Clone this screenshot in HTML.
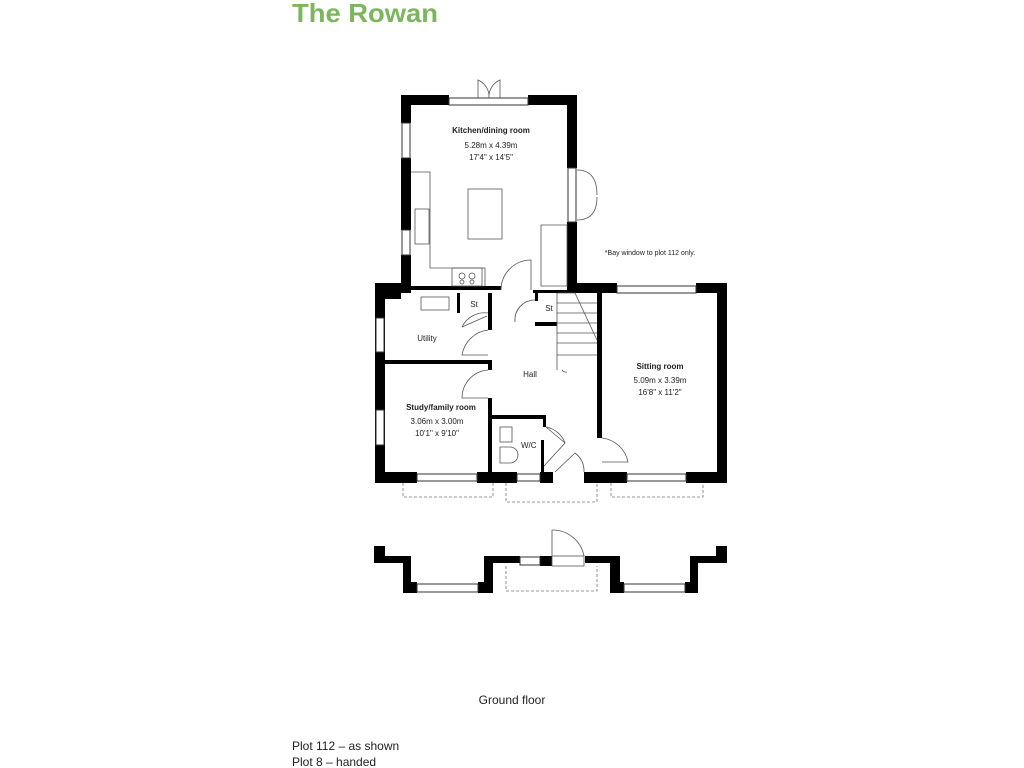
<!DOCTYPE html>
<html><head><meta charset="utf-8"><style>
html,body{margin:0;padding:0;background:#fff;width:1024px;height:768px;overflow:hidden}
svg{display:block}
text{font-family:"Liberation Sans",sans-serif;fill:#222}
</style></head><body>
<svg width="1024" height="768" viewBox="0 0 1024 768">
<text x="292" y="22" style="font-size:26px;font-weight:bold;fill:#7cb65c" textLength="146" lengthAdjust="spacingAndGlyphs">The Rowan</text>
<g fill="#000">
<rect x="401" y="95" width="48" height="10"/>
<rect x="528" y="95" width="49" height="10"/>
<rect x="401" y="95" width="10" height="28"/>
<rect x="401" y="158" width="10" height="72"/>
<rect x="401" y="255" width="10" height="33"/>
<rect x="567" y="95" width="10" height="73"/>
<rect x="567" y="222" width="10" height="68"/>
<rect x="375" y="283" width="36" height="10"/>
<rect x="375" y="283" width="10" height="200"/>
<rect x="385" y="293" width="16" height="6"/>
<rect x="411" y="286" width="90" height="4"/>
<rect x="533" y="290" width="64" height="3"/>
<rect x="567" y="283" width="30" height="10"/>
<rect x="597" y="283" width="20" height="10"/>
<rect x="696" y="283" width="31" height="10"/>
<rect x="717" y="283" width="10" height="200"/>
<rect x="597" y="283" width="5" height="155"/>
<rect x="597" y="472" width="30" height="11"/>
<rect x="686" y="472" width="41" height="11"/>
<rect x="375" y="472" width="42" height="11"/>
<rect x="477" y="472" width="40" height="11"/>
<rect x="540" y="472" width="13" height="11"/>
<rect x="584" y="472" width="20" height="11"/>
<rect x="385" y="360" width="107" height="4"/>
<rect x="488" y="293" width="4" height="37"/>
<rect x="488" y="360" width="4" height="10"/>
<rect x="488" y="398" width="4" height="74"/>
<rect x="457" y="293" width="3" height="20"/>
<rect x="490" y="415" width="56" height="4"/>
<rect x="543" y="415" width="3" height="12"/>
<rect x="535" y="322" width="22" height="4"/>
<rect x="535" y="293" width="3" height="8"/>
<rect x="541" y="440" width="3" height="32"/>
<polygon points="374,546 385,546 385,556 411,556 411,582 417,582 417,593 403,593 403,563 374,563"/>
<polygon points="478,582 484,582 484,556 520,556 520,563 493,563 493,593 478,593"/>
<rect x="540" y="556" width="12" height="10"/>
<polygon points="585,556 620,556 620,593 610,593 610,563 585,563"/>
<polygon points="610,582 624,582 624,593 610,593"/>
<polygon points="727,546 716,546 716,556 690,556 690,582 685,582 685,593 698,593 698,563 727,563"/>
</g>
<g fill="#fff" stroke="#333" stroke-width="1">
<rect x="449" y="98" width="79" height="7"/>
<rect x="402" y="123" width="8" height="35"/>
<rect x="402" y="230" width="8" height="25"/>
<rect x="568" y="168" width="8" height="54"/>
<rect x="617" y="286" width="79" height="7"/>
<rect x="376" y="318" width="8" height="34"/>
<rect x="376" y="410" width="8" height="35"/>
<rect x="417" y="474" width="60" height="7"/>
<rect x="517" y="474" width="23" height="7"/>
<rect x="627" y="474" width="59" height="7"/>
<rect x="417" y="584" width="61" height="8"/>
<rect x="520" y="557" width="20" height="8"/>
<rect x="624" y="584" width="61" height="8"/>
</g>
<g fill="none" stroke="#555" stroke-width="0.8">
<path d="M478 98 V80 A18 18 0 0 1 489 98 M500 98 V80 A18 18 0 0 0 489 98"/>
<path d="M577 170 Q597 170 597 195 M577 220 Q597 220 597 197"/>
<path d="M411 172 H430 V268 H485 V286"/>
<rect x="468" y="189" width="34" height="50"/>
<path d="M541 225 H567 V286 H541 Z"/>
<rect x="415" y="209" width="14" height="35"/>
<rect x="452" y="268" width="30" height="18"/>
<circle cx="462" cy="276" r="3"/><circle cx="472" cy="276" r="3"/><circle cx="462" cy="282" r="2"/><circle cx="472" cy="282" r="2"/>
<path d="M531 290 V260 A30 30 0 0 0 501 290"/>
<path d="M535 300 A20 20 0 0 0 515 322"/>
<rect x="421" y="297" width="28" height="13"/>
<path d="M462 327 L487 316 M462 327 A25 25 0 0 1 488 313"/>
<path d="M488 330 A30 30 0 0 0 462 355 L488 355"/>
<path d="M488 370 A28 28 0 0 0 462 398 L488 398"/>
<rect x="500" y="427" width="12" height="15"/>
<path d="M500 447 H510 A8 8 0 0 1 510 463 H500 Z"/>
<path d="M546 427 L565 443 L544 466 M546 427 A25 25 0 0 1 565 443"/>
<path d="M555 472 L575 453 A22 22 0 0 1 584 472"/>
<path d="M602 438 A30 30 0 0 1 628 462 L602 462"/>
<path d="M557 293 V370 M557 303 H597 M557 313 H597 M557 323 H597 M557 333 H597 M557 343 H597 M557 355 H597 M557 293 L575 293 L597 340 M562 370 A5 5 0 0 0 567 372"/>
<path d="M552 556 V530 A32 32 0 0 1 584 556"/>
<rect x="552" y="556" width="32" height="10"/>
</g>
<g fill="none" stroke="#777" stroke-width="0.8" stroke-dasharray="3,2">
<path d="M403 483 V497 H493 V483"/>
<path d="M506 483 V502 H597 V483"/>
<path d="M611 483 V497 H703 V483"/>
<path d="M506 566 V591 H597 V566"/>
</g>
<g style="font-size:8px;font-weight:bold" text-anchor="middle">
<text x="491" y="133">Kitchen/dining room</text>
<text x="660" y="369">Sitting room</text>
<text x="441" y="410">Study/family room</text>
</g>
<g style="font-size:8px" text-anchor="middle">
<text x="491" y="148">5.28m x 4.39m</text>
<text x="491" y="160">17'4" x 14'5"</text>
<text x="660" y="383">5.09m x 3.39m</text>
<text x="660" y="395">16'8" x 11'2"</text>
<text x="437" y="424">3.06m x 3.00m</text>
<text x="437" y="436">10'1" x 9'10"</text>
<text x="427" y="341">Utility</text>
<text x="530" y="377">Hall</text>
<text x="474" y="307">St</text>
<text x="549" y="311">St</text>
<text x="521" y="448" text-anchor="start">W/C</text>
<text x="650" y="255" style="font-size:7px">*Bay window to plot 112 only.</text>
</g>
<text x="512" y="704" text-anchor="middle" style="font-size:12px">Ground floor</text>
<text x="292" y="750" style="font-size:12px">Plot 112 – as shown</text>
<text x="292" y="766" style="font-size:12px">Plot 8 – handed</text>
</svg>
</body></html>
